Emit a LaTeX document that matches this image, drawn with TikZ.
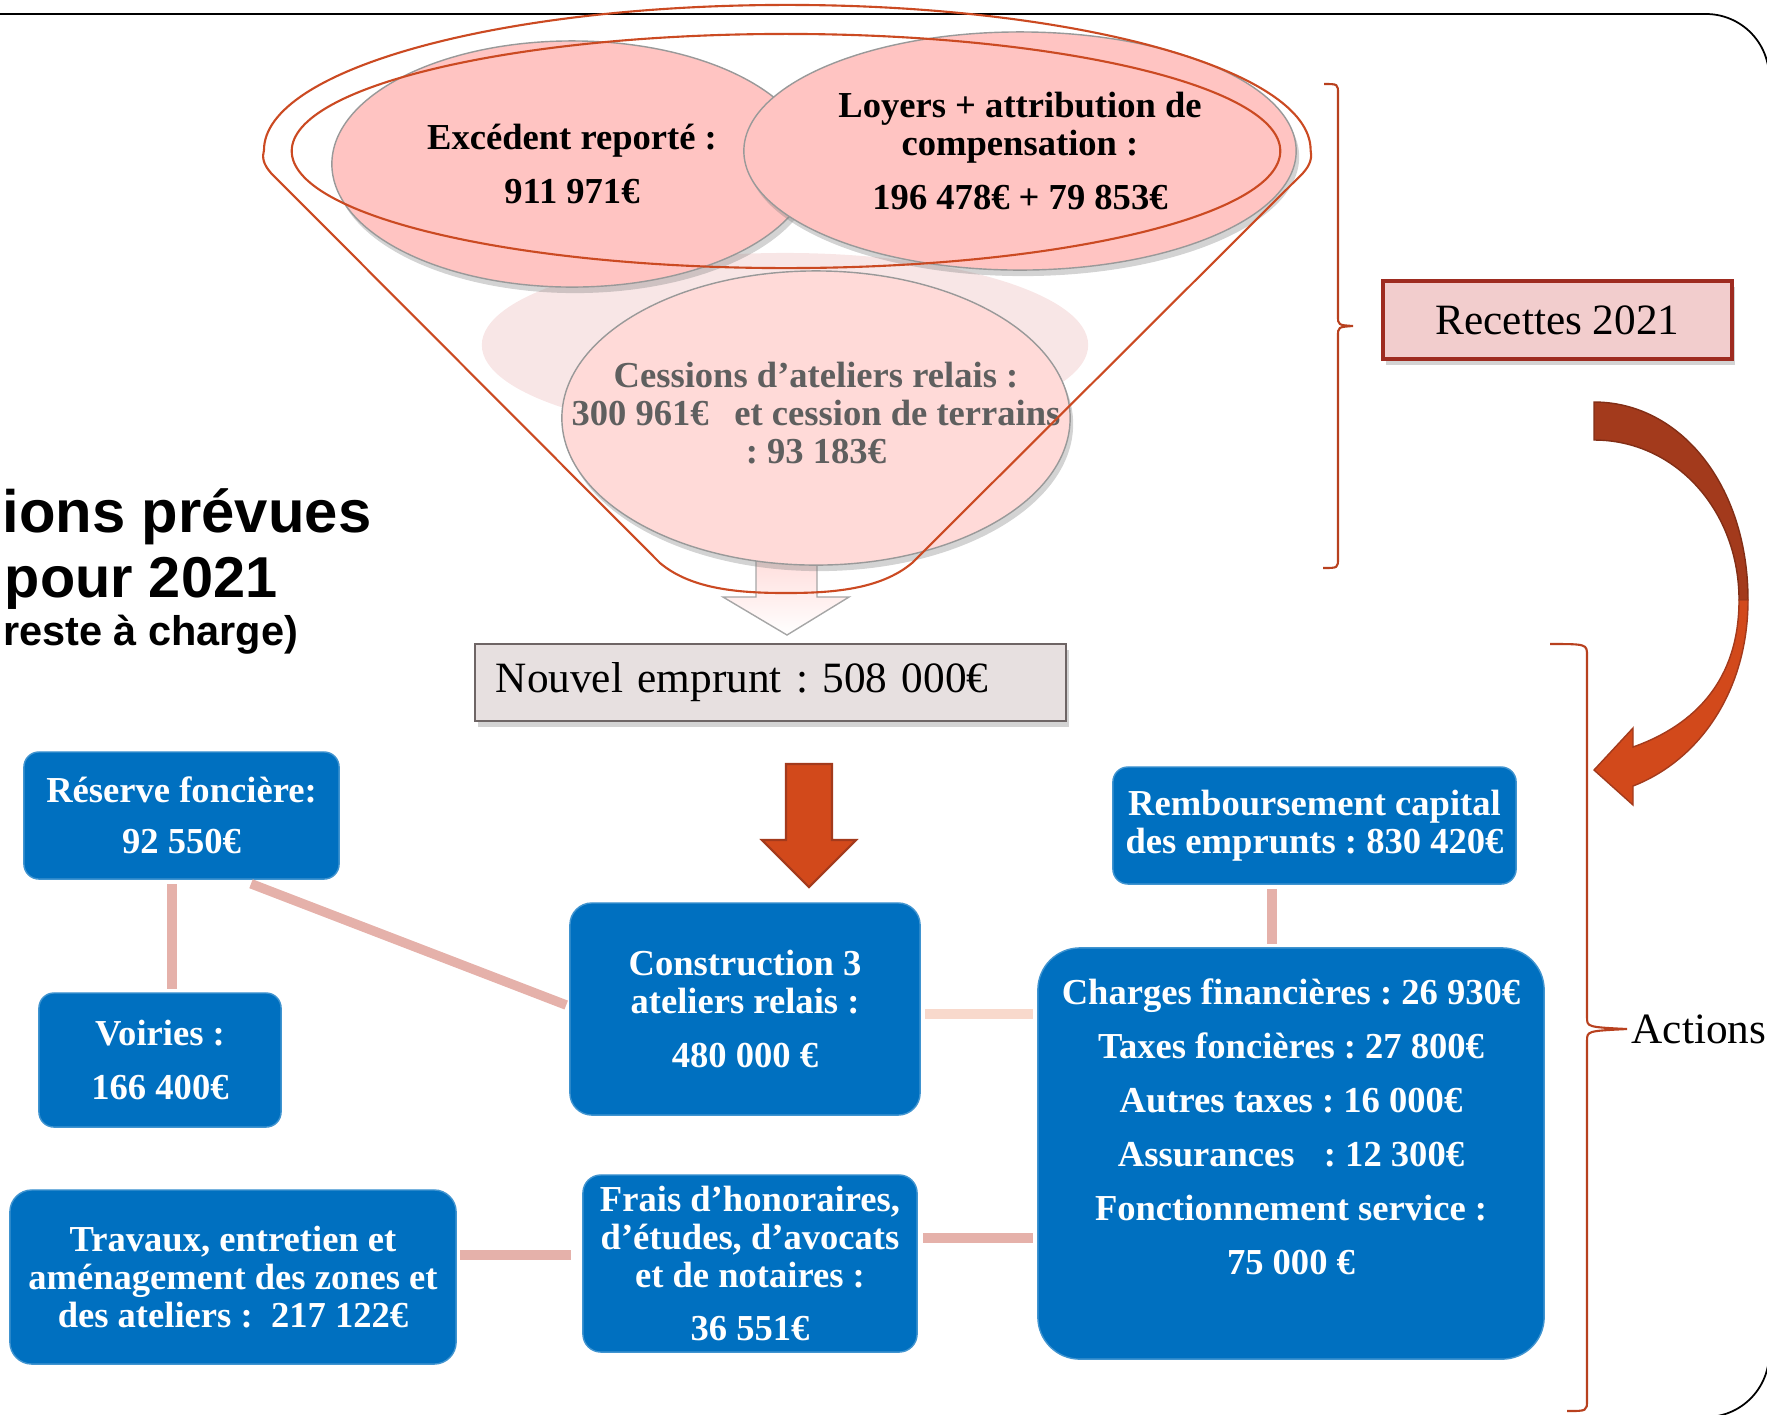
\documentclass[tikz,border=0pt]{standalone}
\usepackage{fontspec}
\setmainfont{Liberation Serif}
\newfontfamily\titrefont{Liberation Sans}
\usepackage{xcolor}
\usetikzlibrary{positioning,shapes.geometric,shadows,calc}
\frenchspacing

\definecolor{bleu}{HTML}{0070C0}
\definecolor{rose}{HTML}{FFC4C2}
\definecolor{rosepale}{HTML}{FFDAD8}
\definecolor{voile}{HTML}{F8E6E6}
\definecolor{rouge}{HTML}{CB4A22}
\definecolor{brique}{HTML}{A33A1C}
\definecolor{flamme}{HTML}{D2491B}
\definecolor{lien}{HTML}{E5B1AA}
\definecolor{lienclair}{HTML}{F8D9CC}
\definecolor{gris}{HTML}{5F5F5F}
\definecolor{gris2}{HTML}{6E6565}
\definecolor{emprunt}{HTML}{E7E0E0}
\definecolor{recette}{HTML}{F2CDCD}
\definecolor{recettebord}{HTML}{9E2B20}
\definecolor{accol}{HTML}{B8411F}

\begin{document}
\begin{tikzpicture}[
    x=0.01cm, y=-0.01cm,
    font=\fontsize{10.4}{10.8}\selectfont\bfseries,
    ombre/.style={drop shadow={shadow xshift=0.03cm, shadow yshift=-0.06cm, opacity=0.35}},
    bulle/.style={ellipse, draw=gray!80, line width=0.4pt, fill=rose, ombre, align=center, inner sep=0pt},
    bloc/.style={rectangle, rounded corners=0.15cm, draw=bleu!75!white, line width=0.4pt, fill=bleu, text=white, align=center, inner sep=0pt},
    cadre/.style={rectangle, draw=#1, ombre, inner sep=0pt, font=\fontsize{12.3}{14}\selectfont\mdseries},
    lien/.style={draw=lien, line width=0.095cm},
    entonnoir/.style={draw=rouge, line width=0.6pt},
    accolade/.style={draw=accol, line width=0.6pt},
    titre/.style={font=\titrefont\fontsize{17}{18}\selectfont\bfseries, inner sep=0pt}
]
\useasboundingbox (0,0) rectangle (1767,1414);
\clip (0,0) rectangle (1767,1414);

% Cadre
\draw[line width=0.5pt, rounded corners=0.63cm] (-100,14) rectangle (1769,1417);

% Titre
\node[titre, anchor=base east] (titre1) at (372,532) {ions prévues};
\node[titre, anchor=base east, font=\titrefont\fontsize{16.4}{18}\selectfont\bfseries] (titre2) at (278,597) {pour 2021};
\node[titre, anchor=base east, font=\titrefont\fontsize{11.8}{14}\selectfont\bfseries] (titre3) at (299,645) {reste à charge)};

% Voile et petite fleche
\fill[voile] (785,345) ellipse [x radius=3.03cm, y radius=0.92cm];
\draw[draw=gray!70, top color=rosepale, bottom color=white] (756,550) -- (756,597) -- (723,597) -- (787,635) -- (849,597) -- (817,597) -- (817,550) -- cycle;

% Bulles des recettes
\node[bulle, minimum width=4.8cm, minimum height=2.46cm] (excedent) at (572,164) {Excédent reporté :\\[4.5pt]911 971€};
\node[bulle, minimum width=5.52cm, minimum height=2.38cm] (loyers) at (1020,151) {Loyers + attribution de\\compensation :\\[4.5pt]196 478€ + 79 853€};
\node[bulle, fill=rosepale, minimum width=5.08cm, minimum height=2.94cm] (cessions) at (816,418) {};
\node[text=gris, align=center, inner sep=0pt] (cessions-txt) at (816,413) {Cessions d’ateliers relais :\\300 961€\hspace{0.45em} et cession de terrains\\: 93 183€};

% Entonnoir
\draw[entonnoir] (786,151) ellipse [x radius=4.94cm, y radius=1.17cm];
\draw[entonnoir] (271,173) .. controls (263,164) and (262,157) .. (264,150)
    arc[start angle=180, end angle=0, x radius=5.23cm, y radius=1.45cm]
    .. controls (1312,157) and (1311,164) .. (1303,173)
    -- (912,563) .. controls (880,590) and (830,593) .. (786,593)
    .. controls (742,593) and (692,590) .. (660,563) -- cycle;

% Emprunt et recettes
\node[cadre=gris2, fill=emprunt, minimum width=5.91cm, minimum height=0.77cm, text width=5.49cm, align=left] (emprunt) at (770.5,682.5) {Nouvel emprunt : 508 000€};
\node[cadre=recettebord, fill=recette, line width=1pt, minimum width=3.49cm, minimum height=0.78cm] (recettes) at (1557.5,320) {Recettes 2021};

% Fleche rouge
\filldraw[fill=flamme, draw=brique, line width=0.6pt] (786,764) -- (832,764) -- (832,840) -- (856,840) -- (809,887) -- (762,840) -- (786,840) -- cycle;

% Blocs bleus
\node[bloc, minimum width=3.15cm, minimum height=1.27cm] (reserve) at (181.5,815.5) {Réserve foncière:\\[3.7pt]92 550€};
\node[bloc, minimum width=2.42cm, minimum height=1.34cm] (voiries) at (160,1060) {Voiries :\\[4.5pt]166 400€};
\node[bloc, rounded corners=0.22cm, minimum width=3.5cm, minimum height=2.12cm] (construction) at (745,1009) {Construction 3\\ateliers relais :\\[4.5pt]480 000 €};
\node[bloc, minimum width=4.03cm, minimum height=1.17cm] (rembourse) at (1314.5,825.5) {Remboursement capital\\des emprunts : 830 420€};
\node[bloc, rounded corners=0.42cm, minimum width=5.06cm, minimum height=4.11cm] (charges) at (1291,1153.5) {Charges financières : 26 930€\\[4.5pt]Taxes foncières : 27 800€\\[4.5pt]Autres taxes : 16 000€\\[4.5pt]Assurances\hspace{0.55em} : 12 300€\\[4.5pt]Fonctionnement service :\\[4.5pt]75 000 €\\[4.5pt]\mbox{}};
\node[bloc, rounded corners=0.22cm, minimum width=4.46cm, minimum height=1.74cm] (travaux) at (233,1277) {Travaux, entretien et\\aménagement des zones et\\des ateliers :\enspace 217 122€};
\node[bloc, rounded corners=0.18cm, minimum width=3.34cm, minimum height=1.77cm] (frais) at (750,1263.5) {Frais d’honoraires,\\d’études, d’avocats\\et de notaires :\\[4.5pt]36 551€};

% Liens
\draw[lien] ($(reserve.south)+(-9.5,4)$) -- ($(voiries.north)+(12,-3)$);
\draw[lien] ($(reserve.south)+(69.5,4)$) -- ($(construction.west)+(-3,-4)$);
\coordinate (c1) at ($(construction.east)+(4,5)$);
\draw[lien, draw=lienclair, shorten >=0.04cm] (c1) -- (c1 -| charges.west);
\coordinate (c2) at ($(rembourse.south)+(-42.5,4)$);
\draw[lien, shorten >=0.03cm] (c2) -- (c2 |- charges.north);
\coordinate (c3) at ($(frais.east)+(5,-25.5)$);
\draw[lien, shorten >=0.04cm] (c3) -- (c3 -| charges.west);
\coordinate (c4) at ($(travaux.east)+(3,-22)$);
\draw[lien, shorten >=0.11cm] (c4) -- (c4 -| frais.west);

% Accolades
\draw[accolade] (1324,84) .. controls (1338,84) .. (1338,94) -- (1338,316) .. controls (1338,325) .. (1353,326) .. controls (1338,327) .. (1338,336) -- (1338,558) .. controls (1338,568) .. (1323,568);
\node[anchor=west, inner sep=0.04cm, font=\fontsize{12.3}{14}\selectfont\mdseries] (actions) at (1627,1029) {Actions};
\draw[accolade] (1550,644) .. controls (1587,644) .. (1587,656) -- (1587,1017) .. controls (1587,1027) .. (actions.west) .. controls (1587,1031) .. (1587,1041) -- (1587,1400) .. controls (1587,1411) .. (1567,1411);

% Fleche courbe
\filldraw[fill=brique, draw=brique!80!black, line width=0.4pt] (1594,402) .. controls (1680,402) and (1748,485) .. (1748,600) -- (1739,600) .. controls (1739,510) and (1675,440) .. (1594,440) -- cycle;
\filldraw[fill=flamme, draw=brique, line width=0.4pt] (1748,600) .. controls (1748,690) and (1700,760) .. (1633,786) -- (1633,805) -- (1594,770) -- (1633,728) -- (1633,747) .. controls (1695,725) and (1739,680) .. (1739,600) -- cycle;

\end{tikzpicture}
\end{document}
